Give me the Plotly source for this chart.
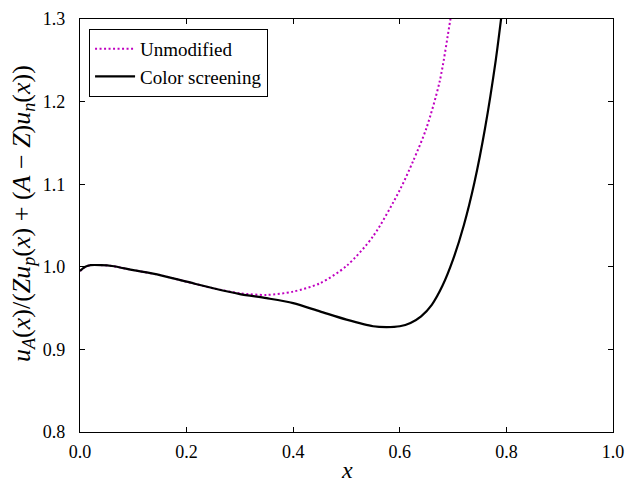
import plotly.graph_objects as go

# Ratio of nuclear to free-nucleon distributions as a function of x
x_screen = [0.0, 0.01, 0.02, 0.04, 0.06, 0.10, 0.15, 0.20, 0.25, 0.30, 0.35, 0.40,
            0.45, 0.50, 0.55, 0.575, 0.60, 0.62, 0.64, 0.66, 0.68, 0.70, 0.72,
            0.74, 0.76, 0.78, 0.79, 0.80]
y_screen = [0.995, 1.000, 1.002, 1.002, 1.001, 0.996, 0.990, 0.982, 0.974, 0.967,
            0.962, 0.956, 0.946, 0.936, 0.928, 0.927, 0.928, 0.932, 0.940, 0.954,
            0.977, 1.009, 1.050, 1.102, 1.168, 1.250, 1.300, 1.355]

x_unmod = [0.0, 0.01, 0.02, 0.04, 0.06, 0.10, 0.15, 0.20, 0.25, 0.30, 0.35, 0.40,
           0.45, 0.50, 0.55, 0.60, 0.625, 0.65, 0.675, 0.695, 0.71]
y_unmod = [0.995, 1.000, 1.002, 1.002, 1.001, 0.996, 0.990, 0.982, 0.974, 0.968,
           0.966, 0.970, 0.980, 1.001, 1.037, 1.093, 1.128, 1.168, 1.225, 1.300,
           1.360]

x_ticks = [0.0, 0.2, 0.4, 0.6, 0.8, 1.0]
y_ticks = [0.8, 0.9, 1.0, 1.1, 1.2, 1.3]

x_title = "<i>x</i>"
y_title = ("<i>u</i><sub><i>A</i></sub>(<i>x</i>)/(<i>Zu</i><sub><i>p</i></sub>(<i>x</i>)"
           " + (<i>A</i> − <i>Z</i>)<i>u</i><sub><i>n</i></sub>(<i>x</i>))")

FONT = "Liberation Serif"

fig = go.Figure()
fig.add_trace(go.Scatter(
    x=x_unmod, y=y_unmod, mode="lines", name="Unmodified",
    line=dict(color="#c000c0", width=2, dash="2px,2.5px", shape="spline", smoothing=0.8),
))
fig.add_trace(go.Scatter(
    x=x_screen, y=y_screen, mode="lines", name="Color screening",
    line=dict(color="black", width=2.2, shape="spline", smoothing=0.8),
))

axis_common = dict(
    showline=True, linecolor="black", linewidth=1.2, mirror="ticks",
    ticks="inside", ticklen=5, tickwidth=1, tickcolor="black",
    showgrid=False, zeroline=False, tickformat=".1f", automargin=False,
    tickfont=dict(family=FONT, size=18, color="black"),
)

fig.update_xaxes(range=[0, 1], tickvals=x_ticks, ticklabelstandoff=3, **axis_common)
fig.update_yaxes(range=[0.8, 1.3], tickvals=y_ticks, ticklabelstandoff=10, **axis_common)

# Axis titles placed as paper-anchored annotations
fig.add_annotation(
    text=x_title, xref="paper", yref="paper", x=0.5, y=-0.093,
    xanchor="center", yanchor="middle", showarrow=False,
    font=dict(family=FONT, size=24, color="black"),
)
fig.add_annotation(
    text=y_title, xref="paper", yref="paper", x=-0.107, y=0.53,
    xanchor="center", yanchor="middle", showarrow=False, textangle=-90,
    font=dict(family=FONT, size=26, color="black"),
)

fig.update_layout(
    width=627, height=482,
    margin=dict(l=80, r=14, t=19, b=50),
    plot_bgcolor="white", paper_bgcolor="white",
    font=dict(family=FONT, color="black"),
    legend=dict(
        x=0.017, y=0.976, xanchor="left", yanchor="top",
        bordercolor="black", borderwidth=1, bgcolor="white",
        font=dict(family=FONT, size=19, color="black"),
        tracegroupgap=0, itemwidth=40,
    ),
    showlegend=True,
)

fig.write_html("out.html")
